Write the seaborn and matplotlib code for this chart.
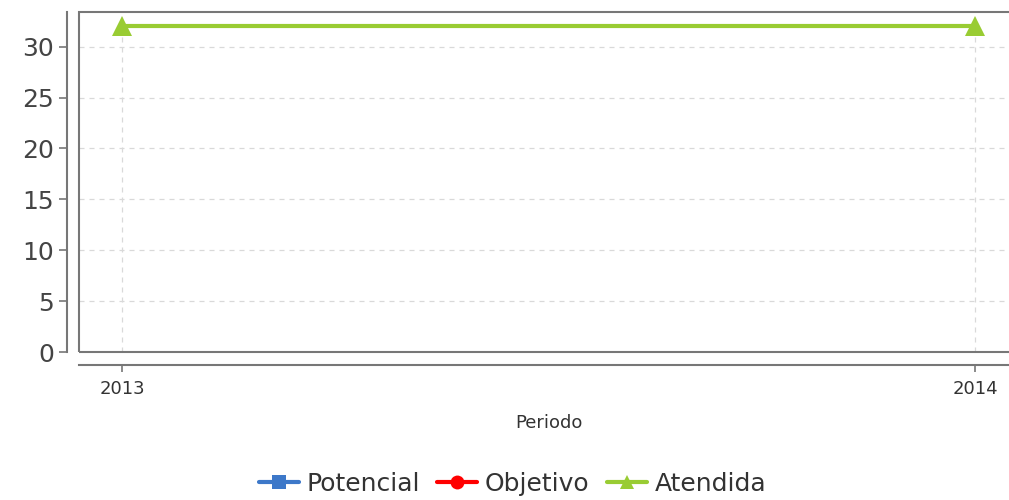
import numpy as np
import pandas as pd
import matplotlib
matplotlib.use('Agg')
import matplotlib.pyplot as plt
import seaborn as sns
from matplotlib.patches import Rectangle

# datos del grafico (Potencial y Objetivo sin valores)
periodos = ['2013', '2014']
potencial = [np.nan, np.nan]
objetivo = [np.nan, np.nan]
atendida = [32, 32]
series = ['Potencial', 'Objetivo', 'Atendida']
colores = ['#3d78c9', '#ff0000', '#99cc33']
marcadores = ['s', 'o', '^']

data = pd.DataFrame({
    'Periodo': list(range(len(periodos))) * 3,
    'Valor': potencial + objetivo + atendida,
    'Serie': [s for s in series for _ in periodos],
})

sns.set_style('white')
plt.rcParams['font.family'] = ['DejaVu Sans']

fig = plt.figure(figsize=(10.09, 5.0), dpi=100)
ax = fig.add_axes([0.0783, 0.296, 0.9306, 0.68])

sns.lineplot(data=data, x='Periodo', y='Valor', hue='Serie', style='Serie',
             hue_order=series, style_order=series,
             palette=colores, markers=marcadores, dashes=False,
             linewidth=3, markersize=15, markeredgewidth=0, ax=ax)

ax.set_xlim(-0.0504, 1.0504)
ax.set_ylim(0, 33.4)
ax.set_xticks(range(len(periodos)))
ax.set_xticklabels(periodos)
ax.set_yticks(range(0, 31, 5))

ax.grid(True, color='#d9d9d9', linestyle=(0, (4, 4)), linewidth=0.9)
ax.set_axisbelow(True)

for lado in ['top', 'right']:
    ax.spines[lado].set_visible(False)
ax.spines['left'].set_position(('outward', 9))
ax.spines['bottom'].set_position(('outward', 9))
for lado in ['left', 'bottom']:
    ax.spines[lado].set_color('#777777')
    ax.spines[lado].set_linewidth(1.5)
ax.add_patch(Rectangle((0, 0), 1, 1, transform=ax.transAxes, fill=False,
                       edgecolor='#777777', linewidth=1.5, clip_on=False))

ax.tick_params(axis='y', left=True, labelsize=18, colors='#777777', length=6,
               width=1.2, direction='out', pad=3, labelcolor='#444444')
ax.tick_params(axis='x', bottom=True, labelsize=13, colors='#777777', length=5,
               width=1.2, direction='out', pad=6, labelcolor='#333333')
ax.set_ylabel('')
ax.set_xlabel('Periodo', fontsize=13, color='#333333', labelpad=12)

handles, labels = ax.get_legend_handles_labels()
for h in handles:
    h.set_markersize(10)
ax.get_legend().remove()
fig.legend(handles, labels, loc='center', bbox_to_anchor=(0.508, 0.032),
           ncol=3, frameon=False, fontsize=18, handlelength=1.6,
           handletextpad=0.3, columnspacing=0.7, labelcolor='#333333',
           borderaxespad=0, borderpad=0)

plt.savefig('out.png', dpi=100)
